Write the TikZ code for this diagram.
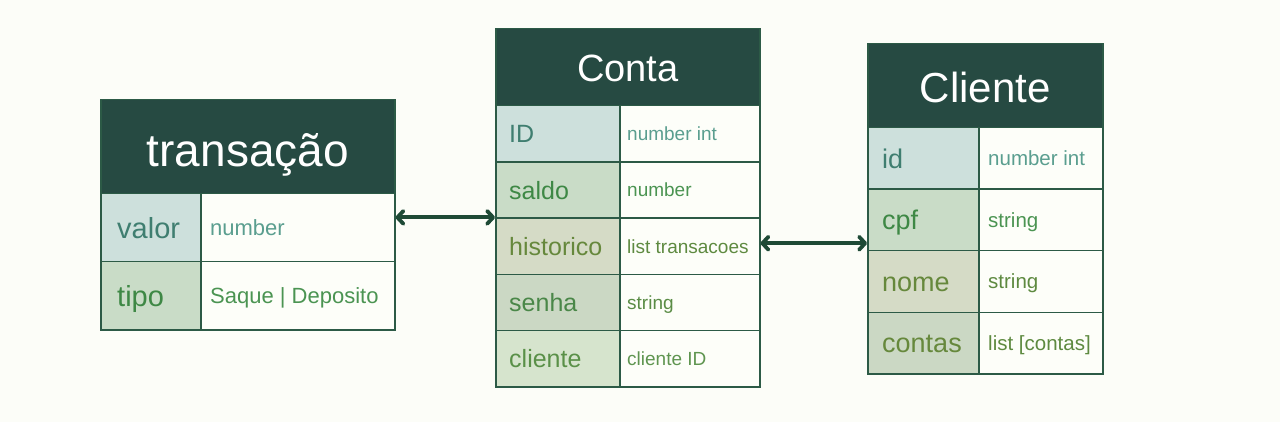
\documentclass[tikz,border=0pt]{standalone}
\usepackage{fontspec}
\setmainfont{Liberation Sans}
\usetikzlibrary{arrows.meta,calc}
\definecolor{bg}{HTML}{FCFDF8}
\definecolor{hdr}{HTML}{264A42}
\definecolor{bord}{HTML}{2C5A46}
\definecolor{vcell}{HTML}{FDFEF9}
\definecolor{kA}{HTML}{CDE0DC}
\definecolor{kB}{HTML}{C9DCC7}
\definecolor{kC}{HTML}{D5DBC6}
\definecolor{kD}{HTML}{CBD8C4}
\definecolor{kE}{HTML}{D6E4CD}
\definecolor{tA}{HTML}{3F7E70}
\definecolor{vA}{HTML}{5A9E8F}
\definecolor{tB}{HTML}{3E8845}
\definecolor{vB}{HTML}{4B9452}
\definecolor{tC}{HTML}{66883C}
\definecolor{vC}{HTML}{5E8A40}
\definecolor{tD}{HTML}{4A8748}
\definecolor{vD}{HTML}{5A8C45}
\definecolor{tE}{HTML}{5A9048}
\definecolor{vE}{HTML}{5F9550}
\definecolor{conn}{HTML}{1E4A36}
\newcommand\fsz[1]{\fontsize{#1}{#1}\selectfont}
\tikzset{
  cellbox/.style={draw=bord, line width=1.5pt, anchor=north west, inner sep=0pt, rectangle},
  hdrbox/.style={cellbox, fill=hdr},
  sz/.style={font=\fsz{#1}, text height={0.72*#1pt}, text depth=0pt},
  hdrtext/.style={text=white, inner sep=0pt},
  lbl/.style={anchor=west, inner sep=0pt},
  tipend/.style={Straight Barb[length=6pt,width=13pt,line cap=round,line join=round]},
  link/.style={draw=conn, line width=3.8pt, {Straight Barb[length=6pt,width=13pt,line cap=round,line join=round]}-{Straight Barb[length=6pt,width=13pt,line cap=round,line join=round]}}
}
\begin{document}
\begin{tikzpicture}[x=1pt,y=-1pt]
\useasboundingbox (0,0) rectangle (1280,422);
\fill[bg] (0,0) rectangle (1280,422);

% ---- transacao ----
\node[hdrbox, minimum width=294pt, minimum height=94pt] (thdr) at (100,99) {};
\node[hdrtext, sz=46] (ttitle) at ([yshift=-3pt]thdr.center) {transação};
\node[cellbox, fill=kA, minimum width=100pt, minimum height=68pt] (valork) at (100,193) {};
\node[cellbox, fill=vcell, minimum width=194pt, minimum height=68pt] (valorv) at (200,193) {};
\node[cellbox, fill=kB, minimum width=100pt, minimum height=68pt] (tipok) at (100,261) {};
\node[cellbox, fill=vcell, minimum width=194pt, minimum height=68pt] (tipov) at (200,261) {};
\node[lbl, text=tA, sz=29] (valorkt) at ([xshift=17pt]valork.west) {valor};
\node[lbl, text=vA, sz=22] (valorvt) at ([xshift=10pt]valorv.west) {number};
\node[lbl, text=tB, sz=29] (tipokt) at ([xshift=17pt]tipok.west) {tipo};
\node[lbl, text=vB, sz=22] (tipovt) at ([xshift=10pt]tipov.west) {Saque | Deposito};

% ---- Conta ----
\node[hdrbox, minimum width=264pt, minimum height=77pt] (chdr) at (495,28) {};
\node[hdrtext, sz=38] (ctitle) at ([yshift=-1pt]chdr.center) {Conta};
\node[cellbox, fill=kA, minimum width=124pt, minimum height=56.2pt] (idk) at (495,105) {};
\node[cellbox, fill=vcell, minimum width=140pt, minimum height=56.2pt] (idv) at (619,105) {};
\node[cellbox, fill=kB, minimum width=124pt, minimum height=56.2pt] (saldok) at (495,161.2) {};
\node[cellbox, fill=vcell, minimum width=140pt, minimum height=56.2pt] (saldov) at (619,161.2) {};
\node[cellbox, fill=kC, minimum width=124pt, minimum height=56.2pt] (histk) at (495,217.4) {};
\node[cellbox, fill=vcell, minimum width=140pt, minimum height=56.2pt] (histv) at (619,217.4) {};
\node[cellbox, fill=kD, minimum width=124pt, minimum height=56.2pt] (senhak) at (495,273.6) {};
\node[cellbox, fill=vcell, minimum width=140pt, minimum height=56.2pt] (senhav) at (619,273.6) {};
\node[cellbox, fill=kE, minimum width=124pt, minimum height=56.2pt] (clik) at (495,329.8) {};
\node[cellbox, fill=vcell, minimum width=140pt, minimum height=56.2pt] (cliv) at (619,329.8) {};
\node[lbl, text=tA, sz=25] (idkt) at ([xshift=14pt]idk.west) {ID};
\node[lbl, text=vA, sz=19] (idvt) at ([xshift=8pt]idv.west) {number int};
\node[lbl, text=tB, sz=25] (saldokt) at ([xshift=14pt]saldok.west) {saldo};
\node[lbl, text=vB, sz=19] (saldovt) at ([xshift=8pt]saldov.west) {number};
\node[lbl, text=tC, sz=25] (histkt) at ([xshift=14pt]histk.west) {historico};
\node[lbl, text=vC, sz=19] (histvt) at ([xshift=8pt]histv.west) {list transacoes};
\node[lbl, text=tD, sz=25] (senhakt) at ([xshift=14pt]senhak.west) {senha};
\node[lbl, text=vD, sz=19] (senhavt) at ([xshift=8pt]senhav.west) {string};
\node[lbl, text=tE, sz=25] (clikt) at ([xshift=14pt]clik.west) {cliente};
\node[lbl, text=vE, sz=19] (clivt) at ([xshift=8pt]cliv.west) {cliente ID};

% ---- Cliente ----
\node[hdrbox, minimum width=235pt, minimum height=84pt] (khdr) at (867,43) {};
\node[hdrtext, sz=42] (ktitle) at ([yshift=-2pt]khdr.center) {Cliente};
\node[cellbox, fill=kA, minimum width=111pt, minimum height=61.5pt] (cidk) at (867,127) {};
\node[cellbox, fill=vcell, minimum width=124pt, minimum height=61.5pt] (cidv) at (978,127) {};
\node[cellbox, fill=kB, minimum width=111pt, minimum height=61.5pt] (cpfk) at (867,188.5) {};
\node[cellbox, fill=vcell, minimum width=124pt, minimum height=61.5pt] (cpfv) at (978,188.5) {};
\node[cellbox, fill=kC, minimum width=111pt, minimum height=61.5pt] (nomek) at (867,250) {};
\node[cellbox, fill=vcell, minimum width=124pt, minimum height=61.5pt] (nomev) at (978,250) {};
\node[cellbox, fill=kD, minimum width=111pt, minimum height=61.5pt] (contk) at (867,311.5) {};
\node[cellbox, fill=vcell, minimum width=124pt, minimum height=61.5pt] (contv) at (978,311.5) {};
\node[lbl, text=tA, sz=27] (cidkt) at ([xshift=15pt]cidk.west) {id};
\node[lbl, text=vA, sz=20.5] (cidvt) at ([xshift=10pt]cidv.west) {number int};
\node[lbl, text=tB, sz=27] (cpfkt) at ([xshift=15pt]cpfk.west) {cpf};
\node[lbl, text=vB, sz=20.5] (cpfvt) at ([xshift=10pt]cpfv.west) {string};
\node[lbl, text=tC, sz=27] (nomekt) at ([xshift=15pt]nomek.west) {nome};
\node[lbl, text=vC, sz=20.5] (nomevt) at ([xshift=10pt]nomev.west) {string};
\node[lbl, text=tC, sz=27] (contkt) at ([xshift=15pt]contk.west) {contas};
\node[lbl, text=vC, sz=20.5] (contvt) at ([xshift=10pt]contv.west) {list [contas]};

% ---- connectors ----
\draw[link] (valorv.east |- histk.north west) -- (histk.north west);
\draw[link] ([yshift=3pt]histv.east) -- ([yshift=3pt]histv.east -| cpfk.west);
\end{tikzpicture}
\end{document}
